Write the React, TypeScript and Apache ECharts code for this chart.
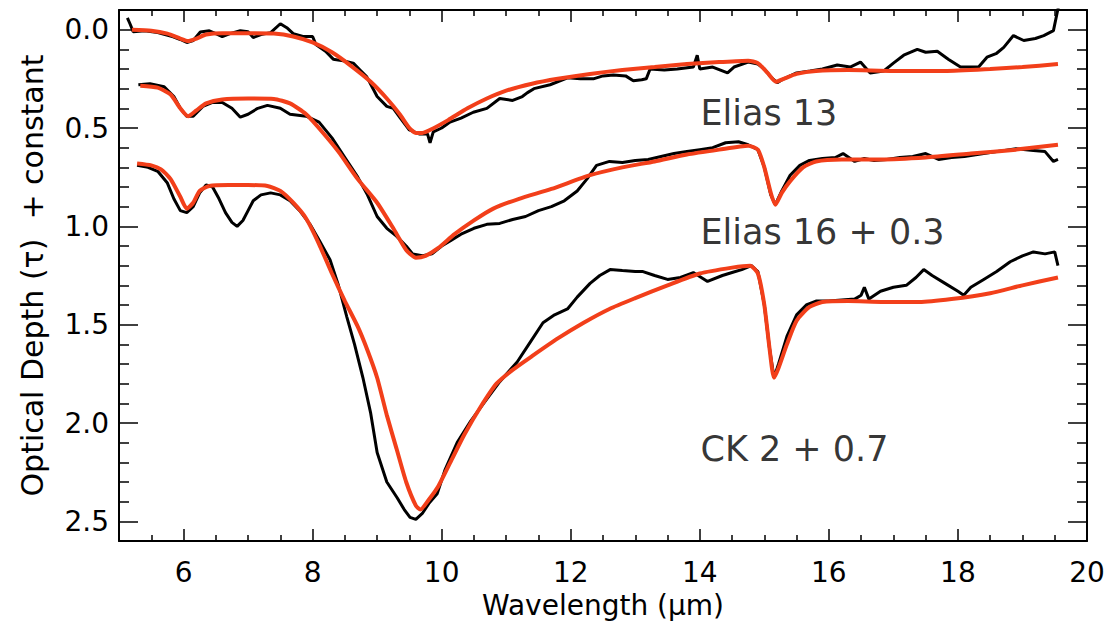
import { useEffect, useRef } from 'react';
import * as echarts from 'echarts';

// ---- Data (wavelength in µm, optical depth + constant) ----
const E13_OBS: [number, number][] = [
  [5.13, -0.06], [5.17, -0.03], [5.22, 0.01], [5.4, 0.005], [5.6, 0.015], [5.84, 0.036],
  [5.95, 0.05], [6.05, 0.065], [6.15, 0.055], [6.26, 0.012], [6.4, 0.006], [6.5, 0.02],
  [6.6, 0.035], [6.72, 0.02], [6.88, 0.005], [7.0, 0.01], [7.08, 0.04], [7.2, 0.025],
  [7.35, 0.015], [7.5, -0.03], [7.6, -0.01], [7.7, 0.02], [7.85, 0.035], [8.0, 0.035],
  [8.05, 0.075], [8.2, 0.11], [8.32, 0.15], [8.5, 0.16], [8.63, 0.17], [8.75, 0.21],
  [8.84, 0.24], [9.0, 0.34], [9.15, 0.39], [9.25, 0.4], [9.36, 0.45], [9.5, 0.51],
  [9.65, 0.53], [9.78, 0.53], [9.82, 0.575], [9.87, 0.52], [10.0, 0.5], [10.13, 0.47],
  [10.3, 0.45], [10.49, 0.42], [10.7, 0.4], [10.9, 0.35], [11.1, 0.36], [11.25, 0.34],
  [11.33, 0.32], [11.43, 0.3], [11.68, 0.28], [11.95, 0.245], [12.15, 0.25], [12.35, 0.25],
  [12.5, 0.235], [12.66, 0.23], [12.85, 0.235], [12.97, 0.26], [13.1, 0.255], [13.17, 0.25],
  [13.23, 0.2], [13.45, 0.205], [13.65, 0.2], [13.9, 0.19], [13.96, 0.13], [14.0, 0.2],
  [14.2, 0.19], [14.43, 0.22], [14.53, 0.19], [14.75, 0.165], [14.9, 0.175], [15.0, 0.2],
  [15.1, 0.24], [15.2, 0.27], [15.3, 0.25], [15.5, 0.22], [15.71, 0.21], [15.9, 0.2],
  [16.13, 0.18], [16.33, 0.19], [16.49, 0.165], [16.64, 0.22], [16.85, 0.21], [17.0, 0.17],
  [17.16, 0.13], [17.37, 0.1], [17.5, 0.115], [17.68, 0.11], [17.85, 0.15], [18.04, 0.19],
  [18.32, 0.19], [18.45, 0.14], [18.6, 0.12], [18.71, 0.09], [18.86, 0.03], [19.02, 0.055],
  [19.2, 0.045], [19.33, 0.03], [19.48, 0.005], [19.54, -0.09], [19.56, -0.12],
];

const E13_FIT: [number, number][] = [
  [5.2, 0.0], [5.5, 0.005], [5.75, 0.02], [5.95, 0.045], [6.07, 0.058], [6.2, 0.045],
  [6.35, 0.025], [6.6, 0.018], [7.0, 0.018], [7.4, 0.02], [7.7, 0.035], [8.0, 0.065],
  [8.3, 0.115], [8.6, 0.185], [8.9, 0.265], [9.15, 0.35], [9.35, 0.43], [9.5, 0.5],
  [9.6, 0.525], [9.7, 0.525], [9.85, 0.505], [10.1, 0.46], [10.4, 0.4], [10.7, 0.35],
  [11.0, 0.31], [11.4, 0.275], [11.8, 0.25], [12.3, 0.225], [12.8, 0.205], [13.3, 0.19],
  [13.8, 0.175], [14.3, 0.165], [14.75, 0.158], [14.9, 0.17], [15.05, 0.22], [15.18, 0.265],
  [15.3, 0.25], [15.5, 0.225], [15.8, 0.21], [16.3, 0.205], [17.0, 0.21], [17.8, 0.21],
  [18.5, 0.2], [19.0, 0.19], [19.55, 0.175],
];

const E16_OBS: [number, number][] = [
  [5.3, 0.28], [5.48, 0.275], [5.7, 0.29], [5.85, 0.34], [5.95, 0.4], [6.05, 0.44],
  [6.15, 0.44], [6.3, 0.39], [6.45, 0.37], [6.6, 0.37], [6.75, 0.4], [6.88, 0.445],
  [7.0, 0.43], [7.15, 0.4], [7.3, 0.385], [7.5, 0.4], [7.65, 0.43], [7.9, 0.44],
  [8.1, 0.47], [8.3, 0.55], [8.5, 0.65], [8.7, 0.75], [8.85, 0.84], [9.0, 0.95],
  [9.15, 1.01], [9.3, 1.05], [9.45, 1.1], [9.55, 1.14], [9.7, 1.15], [9.85, 1.14],
  [10.0, 1.1], [10.15, 1.07], [10.3, 1.04], [10.5, 1.01], [10.7, 0.99], [10.9, 0.985],
  [11.1, 0.965], [11.3, 0.95], [11.5, 0.92], [11.7, 0.9], [11.9, 0.87], [12.1, 0.82],
  [12.25, 0.76], [12.4, 0.69], [12.6, 0.67], [12.8, 0.675], [13.0, 0.665], [13.2, 0.66],
  [13.4, 0.645], [13.6, 0.63], [13.8, 0.62], [14.0, 0.61], [14.2, 0.6], [14.4, 0.575],
  [14.6, 0.57], [14.75, 0.585], [14.9, 0.61], [15.0, 0.7], [15.1, 0.84], [15.17, 0.89],
  [15.27, 0.82], [15.4, 0.74], [15.55, 0.69], [15.7, 0.665], [15.9, 0.655], [16.1, 0.65],
  [16.22, 0.63], [16.4, 0.67], [16.55, 0.655], [16.7, 0.665], [16.9, 0.66], [17.1, 0.65],
  [17.3, 0.645], [17.5, 0.63], [17.7, 0.66], [17.9, 0.65], [18.1, 0.645], [18.3, 0.635],
  [18.5, 0.625], [18.7, 0.615], [18.9, 0.605], [19.17, 0.615], [19.35, 0.62], [19.48, 0.67],
  [19.55, 0.66],
];

const E16_FIT: [number, number][] = [
  [5.33, 0.285], [5.6, 0.295], [5.8, 0.33], [5.95, 0.4], [6.07, 0.44], [6.2, 0.41],
  [6.35, 0.375], [6.6, 0.355], [7.0, 0.35], [7.4, 0.352], [7.65, 0.375], [7.9, 0.43],
  [8.15, 0.52], [8.4, 0.62], [8.7, 0.76], [9.0, 0.88], [9.25, 1.01], [9.45, 1.12],
  [9.6, 1.16], [9.75, 1.15], [9.95, 1.11], [10.2, 1.04], [10.5, 0.97], [10.8, 0.91],
  [11.2, 0.86], [11.7, 0.81], [12.3, 0.74], [12.8, 0.7], [13.3, 0.67], [13.8, 0.635],
  [14.3, 0.61], [14.75, 0.59], [14.9, 0.61], [15.0, 0.7], [15.1, 0.83], [15.17, 0.89],
  [15.27, 0.83], [15.4, 0.77], [15.6, 0.7], [15.8, 0.67], [16.2, 0.66], [16.8, 0.66],
  [17.5, 0.65], [18.2, 0.63], [18.9, 0.61], [19.55, 0.585],
];

const CK2_OBS: [number, number][] = [
  [5.28, 0.69], [5.45, 0.7], [5.6, 0.72], [5.75, 0.78], [5.85, 0.86], [5.95, 0.92],
  [6.05, 0.93], [6.15, 0.9], [6.25, 0.83], [6.35, 0.79], [6.45, 0.8], [6.55, 0.86],
  [6.65, 0.93], [6.75, 0.98], [6.83, 1.0], [6.92, 0.97], [7.0, 0.92], [7.08, 0.87],
  [7.2, 0.84], [7.35, 0.83], [7.5, 0.84], [7.65, 0.87], [7.8, 0.92], [7.96, 0.99],
  [8.1, 1.07], [8.27, 1.17], [8.4, 1.3], [8.53, 1.46], [8.65, 1.6], [8.78, 1.77],
  [8.9, 1.95], [9.0, 2.15], [9.15, 2.3], [9.31, 2.38], [9.42, 2.44], [9.51, 2.48],
  [9.6, 2.49], [9.7, 2.46], [9.8, 2.41], [9.93, 2.36], [10.05, 2.24], [10.24, 2.1],
  [10.45, 1.99], [10.65, 1.9], [10.9, 1.79], [11.17, 1.69], [11.35, 1.6], [11.57, 1.49],
  [11.75, 1.45], [11.95, 1.42], [12.1, 1.36], [12.3, 1.29], [12.45, 1.25], [12.61, 1.22],
  [12.8, 1.225], [13.0, 1.23], [13.12, 1.23], [13.3, 1.25], [13.5, 1.27], [13.7, 1.26],
  [13.9, 1.235], [14.12, 1.28], [14.35, 1.25], [14.5, 1.235], [14.65, 1.22], [14.8, 1.2],
  [14.9, 1.23], [15.0, 1.4], [15.08, 1.62], [15.15, 1.77], [15.22, 1.7], [15.35, 1.56],
  [15.5, 1.45], [15.65, 1.4], [15.8, 1.38], [16.0, 1.38], [16.2, 1.375], [16.4, 1.37],
  [16.5, 1.35], [16.55, 1.31], [16.62, 1.37], [16.8, 1.33], [17.0, 1.31], [17.2, 1.3],
  [17.35, 1.26], [17.47, 1.22], [17.6, 1.25], [17.8, 1.29], [18.0, 1.33], [18.09, 1.35],
  [18.2, 1.31], [18.4, 1.27], [18.6, 1.23], [18.81, 1.18], [19.0, 1.15], [19.17, 1.13],
  [19.35, 1.14], [19.5, 1.13], [19.55, 1.2],
];

const CK2_FIT: [number, number][] = [
  [5.28, 0.68], [5.5, 0.69], [5.65, 0.71], [5.8, 0.76], [5.95, 0.85], [6.05, 0.91],
  [6.15, 0.88], [6.25, 0.82], [6.4, 0.795], [6.7, 0.79], [7.0, 0.79], [7.3, 0.795],
  [7.5, 0.82], [7.7, 0.88], [7.9, 0.96], [8.1, 1.09], [8.3, 1.24], [8.5, 1.38],
  [8.7, 1.51], [8.85, 1.63], [9.0, 1.77], [9.15, 1.96], [9.3, 2.13], [9.45, 2.3],
  [9.6, 2.42], [9.67, 2.44], [9.8, 2.39], [9.95, 2.32], [10.15, 2.19], [10.35, 2.06],
  [10.6, 1.92], [10.85, 1.8], [11.1, 1.73], [11.4, 1.66], [11.8, 1.57], [12.2, 1.49],
  [12.6, 1.42], [13.0, 1.365], [13.5, 1.3], [14.0, 1.24], [14.5, 1.21], [14.78, 1.2],
  [14.9, 1.24], [15.0, 1.4], [15.08, 1.62], [15.15, 1.77], [15.22, 1.72], [15.35, 1.6],
  [15.5, 1.48], [15.7, 1.41], [15.9, 1.385], [16.3, 1.38], [16.85, 1.385], [17.4, 1.385],
  [17.9, 1.37], [18.5, 1.34], [19.0, 1.3], [19.55, 1.26],
];

const LABELS = ['Elias 13', 'Elias 16 + 0.3', 'CK 2 + 0.7'];
const LABEL_ANCHORS: [number, number][] = [[14.01, 0.423], [14.01, 1.031], [14.01, 2.133]];

const X_MIN = 5;
const X_MAX = 20;
const Y_MIN = -0.1;
const Y_MAX = 2.6;

const FONT = 'DejaVu Sans';
const OBS_COLOR = '#000000';
const FIT_COLOR = '#f23f1a';

export default function App() {
  const ref = useRef<HTMLDivElement>(null);

  useEffect(() => {
    if (!ref.current) return;
    const chart = echarts.init(ref.current, null, { renderer: 'svg' });

    const line = { color: '#000', width: 2 };
    const tick = { color: '#000', width: 1.5 };

    const xBase = {
      type: 'value',
      min: X_MIN,
      max: X_MAX,
      splitNumber: 7,
      axisLine: { show: true, onZero: false, lineStyle: line },
      axisTick: { show: true, inside: true, length: 12, lineStyle: tick },
      minorTick: { show: true, splitNumber: 4, length: 6, lineStyle: tick },
      splitLine: { show: false },
      minorSplitLine: { show: false },
    };
    const yBase = {
      type: 'value',
      min: Y_MIN,
      max: Y_MAX,
      inverse: true,
      splitNumber: 5,
      axisLine: { show: true, onZero: false, lineStyle: line },
      axisTick: { show: true, inside: true, length: 19, lineStyle: tick },
      minorTick: { show: true, splitNumber: 5, length: 10, lineStyle: tick },
      splitLine: { show: false },
      minorSplitLine: { show: false },
    };

    const obsSeries = (data: [number, number][]) => ({
      type: 'line',
      data,
      symbol: 'none',
      lineStyle: { color: OBS_COLOR, width: 3 },
      z: 2,
    });
    const fitSeries = (data: [number, number][]) => ({
      type: 'line',
      data,
      symbol: 'none',
      smooth: 0.2,
      lineStyle: { color: FIT_COLOR, width: 4 },
      z: 3,
    });

    chart.setOption({
      animation: false,
      backgroundColor: '#ffffff',
      grid: { left: 119, right: 22, top: 10, bottom: 85, containLabel: false },
      xAxis: [
        {
          ...xBase,
          position: 'bottom',
          axisLabel: {
            show: true,
            margin: 17,
            color: '#000',
            fontFamily: FONT,
            fontSize: 28,
            formatter: (v: number) => (Math.abs(v % 2) < 1e-9 ? String(v) : ''),
          },
          name: 'Wavelength (µm)',
          nameLocation: 'middle',
          nameGap: 50,
          nameTextStyle: { color: '#000', fontFamily: FONT, fontSize: 28 },
        },
        { ...xBase, position: 'top', axisLabel: { show: false } },
      ],
      yAxis: [
        {
          ...yBase,
          position: 'left',
          axisLabel: {
            show: true,
            margin: 10,
            color: '#000',
            fontFamily: FONT,
            fontSize: 28,
            formatter: (v: number) =>
              Math.abs(v * 2 - Math.round(v * 2)) < 1e-6 ? v.toFixed(1) : '',
          },
          name: 'Optical Depth (τ)  + constant',
          nameLocation: 'middle',
          nameRotate: 90,
          nameGap: 72,
          nameTextStyle: { color: '#000', fontFamily: FONT, fontSize: 30 },
        },
        { ...yBase, position: 'right', axisLabel: { show: false } },
      ],
      series: [
        obsSeries(E13_OBS),
        obsSeries(E16_OBS),
        obsSeries(CK2_OBS),
        fitSeries(E13_FIT),
        fitSeries(E16_FIT),
        fitSeries(CK2_FIT),
        {
          type: 'scatter',
          symbolSize: 0,
          silent: true,
          data: LABELS.map((t, i) => ({ name: t, value: LABEL_ANCHORS[i] })),
          label: {
            show: true,
            position: 'right',
            distance: 0,
            formatter: (p: any) => p.name,
            color: '#000',
            fontFamily: FONT,
            fontSize: 35,
          },
          z: 4,
        },
      ],
    } as any);

    return () => chart.dispose();
  }, []);

  return (
    <div
      ref={ref}
      style={{ position: 'fixed', left: 0, top: 0, width: '1109px', height: '626px' }}
    />
  );
}
